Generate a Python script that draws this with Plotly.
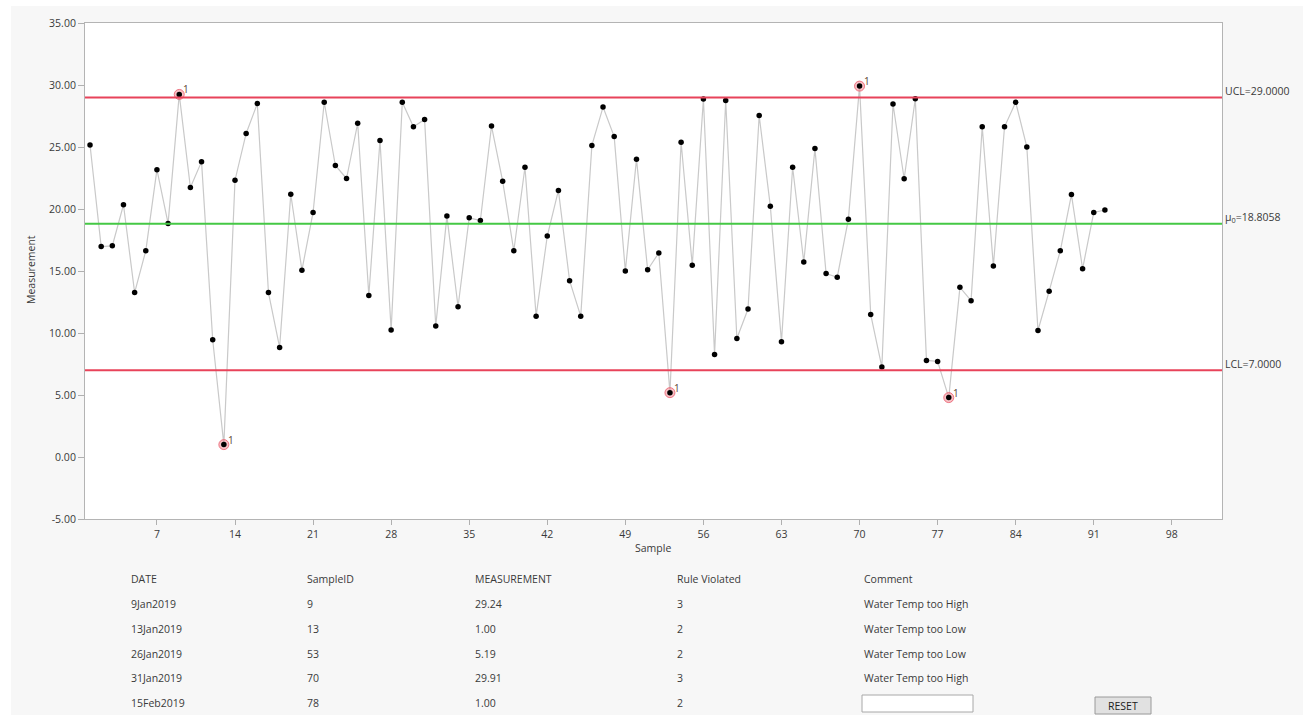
import numpy as np
import plotly.graph_objects as go

# ---------------- data ----------------
samples = list(range(1, 93))
measurement = [25.16, 16.97, 17.03, 20.34, 13.26, 16.63, 23.17, 18.84, 29.24, 21.73,
               23.82, 9.46, 1.00, 22.32, 26.09, 28.50, 13.26, 8.84, 21.19, 15.07,
               19.72, 28.61, 23.51, 22.46, 26.91, 13.03, 25.52, 10.25, 28.61, 26.63,
               27.22, 10.57, 19.43, 12.12, 19.29, 19.07, 26.69, 22.24, 16.63, 23.37,
               11.36, 17.82, 21.50, 14.22, 11.36, 25.13, 28.22, 25.84, 14.99, 24.02,
               15.10, 16.46, 5.19, 25.38, 15.47, 28.87, 8.27, 28.75, 9.55, 11.93,
               27.54, 20.23, 9.29, 23.37, 15.72, 24.87, 14.79, 14.50, 19.18, 29.91,
               11.50, 7.25, 28.47, 22.44, 28.90, 7.79, 7.71, 4.79, 13.68, 12.61,
               26.63, 15.41, 26.63, 28.61, 25.01, 10.20, 13.37, 16.63, 21.16, 15.18,
               19.72, 19.92]
UCL = 29.0
LCL = 7.0
MU0 = 18.8058

x_ticks = [7, 14, 21, 28, 35, 42, 49, 56, 63, 70, 77, 84, 91, 98]
y_ticks = [-5, 0, 5, 10, 15, 20, 25, 30, 35]

table_header = ["DATE", "SampleID", "MEASUREMENT", "Rule Violated", "Comment"]
t_date = ["9Jan2019", "13Jan2019", "26Jan2019", "31Jan2019", "15Feb2019"]
t_sample = ["9", "13", "53", "70", "78"]
t_meas = ["29.24", "1.00", "5.19", "29.91", "1.00"]
t_rule = ["3", "2", "2", "3", "2"]
t_comment = ["Water Temp too High", "Water Temp too Low", "Water Temp too Low",
             "Water Temp too High", ""]

# ---------------- layout geometry ----------------
W, H = 1303, 715
L, R, T, B = 85, 1222, 23, 519


def pxx(x):
    return (x - L) / (R - L)


def pyy(y):
    return (B - y) / (B - T)


FONT = "Open Sans, Noto Sans, sans-serif"
TXT = "#3a3a3a"

xs = np.array(samples)
ys = np.array(measurement)
viol = (ys > UCL) | (ys < LCL)

fig = go.Figure()

fig.add_trace(go.Scatter(x=xs, y=ys, mode="lines",
                         line=dict(color="#c9c9c9", width=1.2),
                         hoverinfo="skip", showlegend=False))
fig.add_trace(go.Scatter(x=xs[viol], y=ys[viol], mode="markers",
                         marker=dict(size=10, color="rgba(240,130,140,0.5)",
                                     line=dict(color="rgba(235,100,115,0.85)", width=1)),
                         hoverinfo="skip", showlegend=False))
fig.add_trace(go.Scatter(x=xs, y=ys, mode="markers",
                         marker=dict(size=5.5, color="black"),
                         showlegend=False))

shapes = []
for val, col in [(UCL, "#e8435a"), (LCL, "#e8435a"), (MU0, "#45c845")]:
    shapes.append(dict(type="line", xref="paper", yref="y", x0=0, x1=1, y0=val, y1=val,
                       line=dict(color=col, width=2), layer="above"))

# white strips at the left and top edge of the window
shapes.append(dict(type="rect", xref="paper", yref="paper", x0=pxx(0), x1=pxx(11),
                   y0=pyy(H), y1=pyy(0), fillcolor="white", line=dict(width=0), layer="below"))
shapes.append(dict(type="rect", xref="paper", yref="paper", x0=pxx(0), x1=pxx(W),
                   y0=pyy(6), y1=pyy(0), fillcolor="white", line=dict(width=0), layer="below"))
# comment input box
shapes.append(dict(type="rect", xref="paper", yref="paper", x0=pxx(862), x1=pxx(973),
                   y0=pyy(712), y1=pyy(695), fillcolor="white",
                   line=dict(color="#a8a8a8", width=1)))
# reset button
shapes.append(dict(type="rect", xref="paper", yref="paper", x0=pxx(1095), x1=pxx(1151),
                   y0=pyy(714), y1=pyy(697), fillcolor="#e1e1e1",
                   line=dict(color="#9a9a9a", width=1)))

annotations = []
# "1" rule flags next to out-of-control points
for xv, yv in zip(xs[viol], ys[viol]):
    annotations.append(dict(xref="x", yref="y", x=int(xv), y=float(yv), text="1",
                            showarrow=False, xanchor="left", yanchor="middle",
                            xshift=2, yshift=5,
                            font=dict(size=10, color="#5c4630", family=FONT)))

for val, label in [(UCL, "UCL=29.0000"), (MU0, "μ<sub>0</sub>=18.8058"), (LCL, "LCL=7.0000")]:
    annotations.append(dict(xref="paper", yref="y", x=1, y=val, text=label, showarrow=False,
                            xanchor="left", yanchor="middle", xshift=1, yshift=6,
                            font=dict(size=10.5, color=TXT, family=FONT)))

annotations.append(dict(xref="paper", yref="paper", x=pxx(31), y=pyy(270), text="Measurement",
                        textangle=-90, showarrow=False, xanchor="center", yanchor="middle",
                        font=dict(size=10.5, color=TXT, family=FONT)))
annotations.append(dict(xref="paper", yref="paper", x=pxx(653), y=pyy(548), text="Sample",
                        showarrow=False, xanchor="center", yanchor="middle",
                        font=dict(size=10.5, color=TXT, family=FONT)))

col_x = [129, 305, 473, 675, 862]
row_y = [579, 604, 629, 653.5, 678, 703]
for cx, head in zip(col_x, table_header):
    annotations.append(dict(xref="paper", yref="paper", x=pxx(cx), y=pyy(row_y[0]), text=head,
                            showarrow=False, xanchor="left", yanchor="middle",
                            font=dict(size=10.5, color=TXT, family=FONT)))
columns = [t_date, t_sample, t_meas, t_rule, t_comment]
for cx, col in zip(col_x, columns):
    for ry, val in zip(row_y[1:], col):
        if val:
            annotations.append(dict(xref="paper", yref="paper", x=pxx(cx), y=pyy(ry), text=val,
                                    showarrow=False, xanchor="left", yanchor="middle",
                                    font=dict(size=10.5, color=TXT, family=FONT)))
annotations.append(dict(xref="paper", yref="paper", x=pxx(1123), y=pyy(705.5), text="RESET",
                        showarrow=False, xanchor="center", yanchor="middle",
                        font=dict(size=10.5, color="#202020", family=FONT)))

fig.update_layout(
    width=W, height=H,
    margin=dict(l=L, r=W - R, t=T, b=H - B, pad=0),
    paper_bgcolor="#f7f7f7", plot_bgcolor="white",
    font=dict(family=FONT, size=10.5, color=TXT),
    shapes=shapes, annotations=annotations,
    showlegend=False,
    xaxis=dict(range=[0.55, 102.5], tickvals=x_ticks, ticks="outside", ticklen=5,
               tickcolor="#b0b0b0", showgrid=False, zeroline=False, showline=True,
               linecolor="#b4b4b4", linewidth=1, mirror=True,
               tickfont=dict(size=10.5, color=TXT, family=FONT)),
    yaxis=dict(range=[-5, 35], tickvals=y_ticks, ticktext=[f"{v:.2f}" for v in y_ticks],
               ticks="outside", ticklen=6, tickcolor="#b0b0b0", showgrid=False,
               zeroline=False, showline=True, linecolor="#b4b4b4", linewidth=1, mirror=True,
               tickfont=dict(size=10.5, color=TXT, family=FONT)),
)

fig.write_html("out.html",
               config={"displayModeBar": False},
               post_script="document.body.style.margin='0';document.body.style.padding='0';"
                           "document.body.style.overflow='hidden';")
